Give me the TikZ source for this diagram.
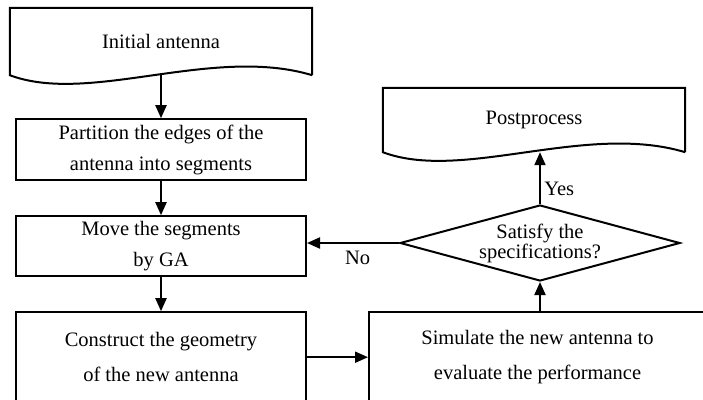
\documentclass[tikz,border=0pt]{standalone}
\usepackage{fontspec}
\setmainfont{Liberation Serif}
\usetikzlibrary{shapes.geometric, arrows.meta, positioning, calc}
\newcommand{\docoutline}[1]{\draw[line width=2pt] (#1.south east) -- (#1.north east) -- (#1.north west) -- (#1.south west) .. controls +(80,30) and +(-100,-30) .. (#1.south east);}

\begin{document}
\begin{tikzpicture}[x=1pt, y=-1pt,
    node distance=34pt and 61pt,
    box/.style={draw, line width=2pt, minimum width=290pt, inner sep=0pt, align=center, font=\fontsize{20.5}{31}\selectfont},
    docbox/.style={minimum width=302pt, inner sep=0pt, align=center, font=\fontsize{20.5}{31}\selectfont},
    lbl/.style={font=\fontsize{20.5}{20}\selectfont},
    arr/.style={-{Triangle[length=13pt, width=11pt]}, line width=2pt}
]
\useasboundingbox (0,0) rectangle (703,399);
\node[docbox, minimum height=67pt] (init) at (161,41.5) {Initial antenna};
\docoutline{init}
\node[box, minimum height=61pt, below=43pt of init] (part) {Partition the edges of the\\antenna into segments};
\node[box, minimum height=60pt, below=of part] (move) {Move the segments\\by GA};
\node[box, minimum height=90pt, below=of move, font=\fontsize{20.5}{35}\selectfont] (cons) {Construct the geometry\\of the new antenna};
\node[box, minimum height=90pt, minimum width=337pt, right=of cons, font=\fontsize{20.5}{35}\selectfont] (sim) {Simulate the new antenna to\\evaluate the performance};
\node[diamond, draw, line width=2pt, minimum width=280pt, minimum height=76pt, inner sep=0pt] (check) at (540,243) {};
\node[lbl, align=center] (checktext) at (check) {Satisfy the\\specifications?};
\node[docbox, minimum height=64pt] (post) at (534,120) {Postprocess};
\docoutline{post}
\draw[arr] (init.south) -- (part.north);
\draw[arr] (part) -- (move);
\draw[arr] (move) -- (cons);
\draw[arr] (cons) -- (sim);
\draw[arr] (sim.north -| check.south) -- (check.south);
\draw[arr] (check.north) -- node[lbl, right, pos=0.3] (yes) {Yes} (check.north |- post.south);
\draw[arr] (check.west) -- node[lbl, below=4pt, pos=0.45] (no) {No} (check.west -| move.east);
\end{tikzpicture}
\end{document}
